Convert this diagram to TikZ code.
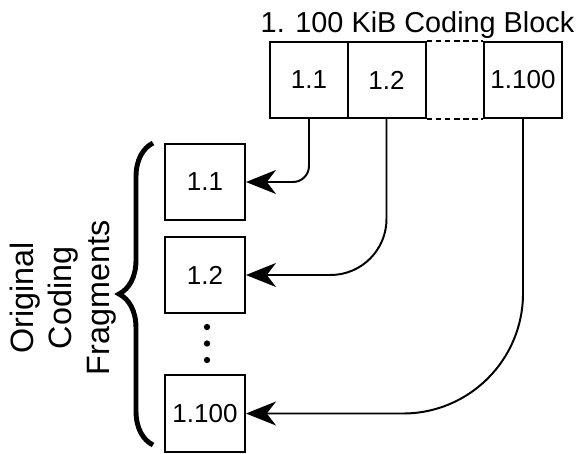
\documentclass[tikz,border=0pt]{standalone}
\usepackage{fontspec}
\setmainfont{Liberation Sans}
\usepackage{tikz}
\usetikzlibrary{arrows.meta}
\usetikzlibrary{decorations.pathreplacing}

\begin{document}
\begin{tikzpicture}[x=0.025cm,y=-0.025cm]
        \tikzset{block/.style = {shape=rectangle,draw,line width=1.4pt,minimum width=1.95cm,minimum height=1.9cm,inner sep=0pt,font=\fontsize{18.5}{20}\selectfont}}
        \tikzset{frag/.style = {block,minimum width=2cm,minimum height=1.92cm}}
        \tikzset{edge/.style = {line width=1.4pt,-{Stealth[length=7.5mm,width=6mm,inset=2.3mm]}}}
        \tikzset{dot/.style = {circle,fill,inner sep=0pt,minimum size=4.5pt}}
        \useasboundingbox (0,0) rectangle (583,453);
        % coding block
        \node[anchor=base,font=\fontsize{20.5}{24}\selectfont] (title) at (417.5,33) {1. 100 KiB Coding Block};
        \node[block] (b1) at (309,80) {1.1};
        \node[block] (b2) at (386.5,80) {1.2};
        \node[block] (b100) at (523,80) {1.100};
        \draw[line width=1.4pt,dash pattern=on 4pt off 2.5pt] (b2.north east) -- (b100.north west);
        \draw[line width=1.4pt,dash pattern=on 4pt off 2.5pt] (b2.south east) -- (b100.south west);
        % fragments
        \node[frag] (f1) at (205,182) {1.1};
        \node[frag] (f2) at (205,275) {1.2};
        \node[frag] (f100) at (205,413.5) {1.100};
        \node[dot] (d1) at (207,327) {};
        \node[dot] (d2) at (207,343.5) {};
        \node[dot] (d3) at (207,360) {};
        \draw[edge,rounded corners=0.4cm] (b1.south) |- (f1.east);
        \draw[edge,rounded corners=1.4cm] (b2.south) |- (f2.east);
        \draw[edge,rounded corners=3cm] (b100.south) |- (f100.east);
        % brace
        \coordinate (bb) at (153,445);
        \coordinate (bt) at (153,143);
        \draw[line width=3.5pt,decorate,decoration={brace,amplitude=0.85cm}] (bb) -- (bt);
        \node[rotate=90,align=center,font=\fontsize{23}{27}\selectfont] (lab) at (63,298) {Original\\Coding\\Fragments};
    \end{tikzpicture}
\end{document}
